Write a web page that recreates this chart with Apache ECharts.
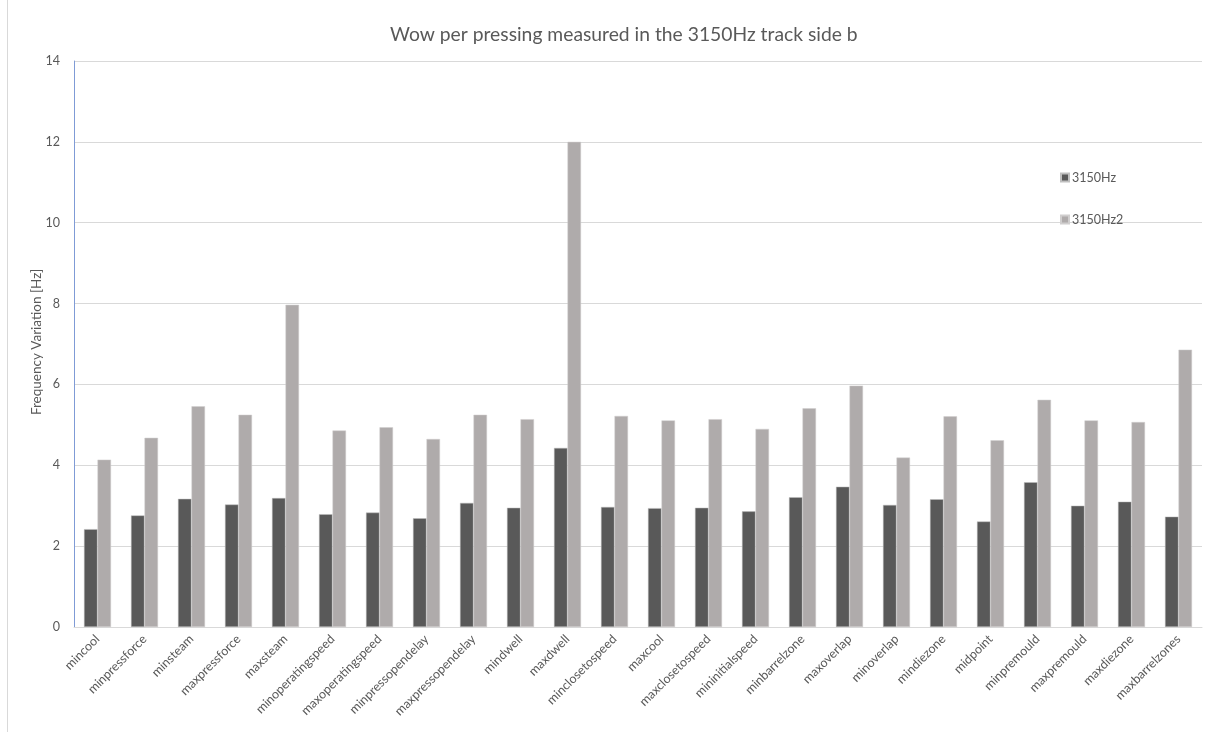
<!DOCTYPE html>
<html>
<head>
<meta charset="utf-8">
<script src="https://cdn.jsdelivr.net/npm/echarts@6/dist/echarts.min.js"></script>
<style>
  html, body { margin: 0; padding: 0; background: #ffffff; }
  #chart { width: 1225px; height: 732px; }
</style>
</head>
<body>
<div id="chart"></div>
<script>
// Pressing settings tested
const categories = [
  'mincool', 'minpressforce', 'minsteam', 'maxpressforce', 'maxsteam',
  'minoperatingspeed', 'maxoperatingspeed', 'minpressopendelay', 'maxpressopendelay',
  'mindwell', 'maxdwell', 'minclosetospeed', 'maxcool', 'maxclosetospeed',
  'mininitialspeed', 'minbarrelzone', 'maxoverlap', 'minoverlap', 'mindiezone',
  'midpoint', 'minpremould', 'maxpremould', 'maxdiezone', 'maxbarrelzones'
];

// Frequency variation [Hz], first measurement
const wow3150 = [
  2.42, 2.76, 3.17, 3.03, 3.19, 2.79, 2.83, 2.69, 3.07, 2.95, 4.43, 2.97,
  2.94, 2.95, 2.86, 3.21, 3.47, 3.02, 3.16, 2.61, 3.58, 3.00, 3.10, 2.73
];

// Frequency variation [Hz], second measurement
const wow3150b = [
  4.14, 4.68, 5.46, 5.25, 7.97, 4.86, 4.94, 4.65, 5.25, 5.14, 12.0, 5.22,
  5.11, 5.14, 4.90, 5.41, 5.97, 4.19, 5.21, 4.62, 5.62, 5.11, 5.07, 6.86
];

const seriesNames = ['3150Hz', '3150Hz2'];
const yTicks = { min: 0, max: 14, interval: 2 };
const yAxisTitle = 'Frequency Variation [Hz]';

const textColor = '#595959';
const fontFamily = 'Lato, "Open Sans", sans-serif';

const chart = echarts.init(document.getElementById('chart'), null, { renderer: 'canvas' });

chart.setOption({
  backgroundColor: '#ffffff',
  animation: false,
  title: {
    text: 'Wow per pressing measured in the 3150Hz track side b',
    left: 385,
    top: 20,
    textStyle: { color: textColor, fontSize: 19.3, fontWeight: 'normal', fontFamily: fontFamily }
  },
  legend: {
    orient: 'vertical',
    left: 1055,
    top: 166,
    itemGap: 29,
    itemWidth: 8,
    itemHeight: 8,
    icon: 'rect',
    textStyle: { color: textColor, fontSize: 12.5, fontFamily: fontFamily, padding: [0, 0, 0, -2] },
    data: seriesNames
  },
  grid: { left: 74, right: 23, top: 61, bottom: 105, containLabel: false },
  xAxis: {
    type: 'category',
    data: categories,
    axisLine: { show: true, lineStyle: { color: '#d9d9d9', width: 1 } },
    axisTick: { show: false },
    axisLabel: {
      rotate: 45,
      interval: 0,
      margin: 10,
      color: textColor,
      fontSize: 12.5,
      fontFamily: fontFamily
    }
  },
  yAxis: {
    type: 'value',
    min: yTicks.min,
    max: yTicks.max,
    interval: yTicks.interval,
    axisLine: { show: true, lineStyle: { color: '#7f9bd6', width: 1 } },
    axisTick: { show: false },
    splitLine: { lineStyle: { color: '#d9d9d9', width: 1 } },
    axisLabel: { color: textColor, fontSize: 12.5, fontFamily: fontFamily, margin: 14 }
  },
  series: [
    {
      name: seriesNames[0],
      type: 'bar',
      data: wow3150,
      barWidth: 13.5,
      barGap: '0%',
      itemStyle: { color: '#595959', borderColor: '#bfbfbf', borderWidth: 0.5 }
    },
    {
      name: seriesNames[1],
      type: 'bar',
      data: wow3150b,
      barWidth: 13.5,
      barGap: '0%',
      itemStyle: { color: '#afabab', borderColor: '#d0cece', borderWidth: 0.5 }
    }
  ],
  graphic: [
    {
      // outer frame edge on the left
      type: 'line',
      shape: { x1: 7.5, y1: 0, x2: 7.5, y2: 732 },
      style: { stroke: '#d9d9d9', lineWidth: 1 },
      silent: true
    },
    {
      // vertical axis title
      type: 'text',
      x: 37,
      y: 342,
      rotation: Math.PI / 2,
      style: {
        text: yAxisTitle,
        fill: textColor,
        font: '13.5px ' + fontFamily,
        align: 'center',
        verticalAlign: 'middle'
      },
      silent: true
    }
  ]
});
</script>
</body>
</html>
